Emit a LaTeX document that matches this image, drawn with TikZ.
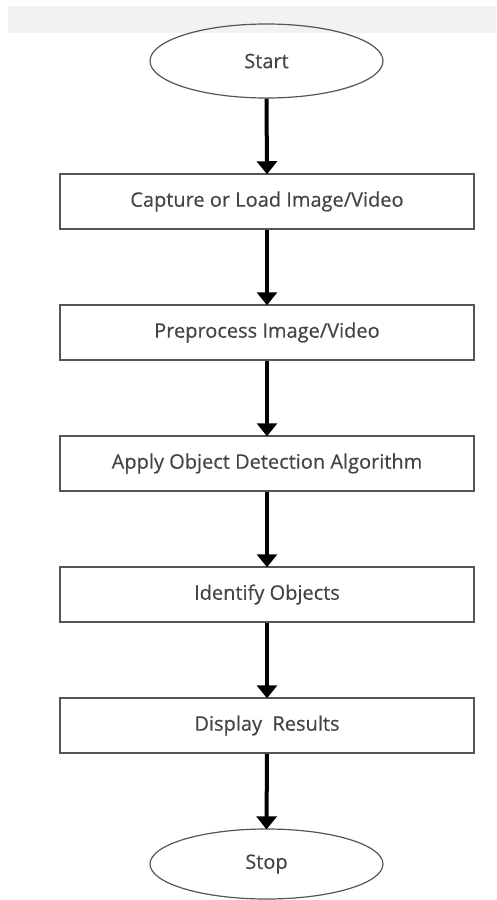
\documentclass[tikz,border=0pt]{standalone}
\usepackage{fontspec}
\setmainfont{Open Sans}
\newfontfamily\labelfont[FakeBold=0.4]{Open Sans}
\usetikzlibrary{shapes.geometric,arrows.meta}
\definecolor{txt}{HTML}{444444}
\definecolor{edge}{HTML}{555555}
\tikzset{
  stepbox/.style={draw=edge, line width=1.5pt, minimum width=414pt, minimum height=55pt, inner sep=0pt, text=txt, font=\labelfont\fontsize{20}{24}\selectfont},
  term/.style={ellipse, draw=edge, line width=1.2pt, minimum width=233pt, minimum height=74pt, inner sep=0pt, text=txt, font=\labelfont\fontsize{20}{24}\selectfont},
  flow/.style={line width=4pt, black, -{Triangle[width=20pt,length=13pt]}, shorten >=-1pt}
}
\begin{document}
\begin{tikzpicture}[x=1pt,y=-1pt]
\useasboundingbox (0,0) rectangle (496,900);
\fill[black!5] (8,6) rectangle (496,33);
\node[term] (start) at (266.5,61) {Start};
\node[stepbox] (b1) at (267,201.5) {Capture or Load Image/Video};
\node[stepbox] (b2) at (267,332.5) {Preprocess Image/Video};
\node[stepbox] (b3) at (267,463.5) {Apply Object Detection Algorithm};
\node[stepbox] (b4) at (267,594.5) {Identify Objects};
\node[stepbox] (b5) at (267,725.5) {Display\ \ Results};
\node[term, minimum height=70pt] (stop) at (266.5,864) {Stop};
\draw[flow] (start.south) -- (b1.north);
\draw[flow] (b1.south) -- (b2.north);
\draw[flow] (b2.south) -- (b3.north);
\draw[flow] (b3.south) -- (b4.north);
\draw[flow] (b4.south) -- (b5.north);
\draw[flow] (b5.south) -- (stop.north);
\end{tikzpicture}
\end{document}
